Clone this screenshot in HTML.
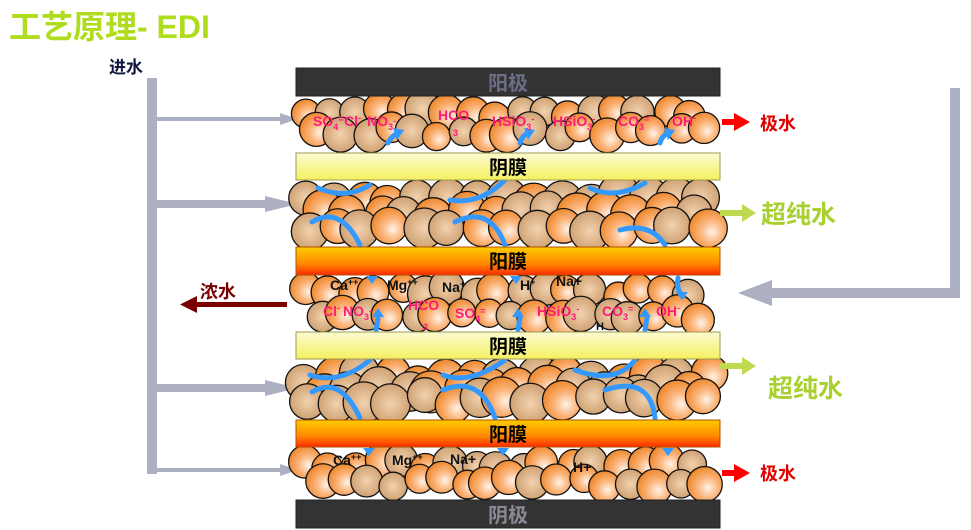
<!DOCTYPE html>
<html><head><meta charset="utf-8"><style>
body{margin:0;width:971px;height:530px;background:#fff;overflow:hidden;font-family:"Liberation Sans","Noto Sans CJK SC",sans-serif}
svg{position:absolute;left:0;top:0}
</style></head><body>
<svg width="971" height="530" viewBox="0 0 971 530" xmlns="http://www.w3.org/2000/svg" font-family="Liberation Sans, Noto Sans CJK SC, sans-serif">
<defs>
<radialGradient id="bo" cx="0.6" cy="0.6" r="0.6"><stop offset="0" stop-color="#fff2e6"/><stop offset="0.5" stop-color="#fbb47a"/><stop offset="1" stop-color="#ee8a30"/></radialGradient>
<radialGradient id="bt" cx="0.5" cy="0.5" r="0.6"><stop offset="0" stop-color="#f2d2ae"/><stop offset="1" stop-color="#c89868"/></radialGradient>
<linearGradient id="ym" x1="0" y1="0" x2="0" y2="1"><stop offset="0" stop-color="#fbfbd0"/><stop offset="1" stop-color="#f5f060"/></linearGradient>
<linearGradient id="om" x1="0" y1="0" x2="0" y2="1"><stop offset="0" stop-color="#ffcc00"/><stop offset="0.6" stop-color="#ff8800"/><stop offset="1" stop-color="#ff2a00"/></linearGradient>
</defs>
<text x="9" y="38" font-size="32" font-weight="bold" fill="#b0dc1e">工艺原理- EDI</text>
<text x="109" y="73" font-size="17" font-weight="bold" fill="#101840">进水</text>
<g fill="#adafc2">
<rect x="147" y="78" width="10" height="396"/>
<rect x="157" y="117" width="125" height="4"/><polygon points="280,113 298,119 280,125"/>
<rect x="157" y="200" width="110" height="8"/><polygon points="265,196 298,204 265,212"/>
<rect x="157" y="384" width="110" height="8"/><polygon points="265,380 298,388 265,396"/>
<rect x="157" y="468" width="125" height="4"/><polygon points="280,464 298,470 280,476"/>
<rect x="950" y="88" width="10" height="210"/>
<rect x="770" y="288" width="190" height="10"/><polygon points="772,280 738,293 772,306"/>
</g>
<g id="beads"></g>
<g id="blue" fill="none" stroke="#3399ff" stroke-width="5" stroke-linecap="round">
<path d="M318,188 Q345,200 370,185"/><path d="M312,222 Q340,205 360,245"/>
<path d="M450,200 Q480,205 505,180"/><path d="M455,222 Q490,205 505,245"/>
<path d="M590,188 Q615,200 645,183"/><path d="M620,230 Q650,222 665,245"/>
<path d="M310,375 Q340,385 370,360"/><path d="M312,392 Q340,375 360,418"/>
<path d="M443,375 Q470,385 505,360"/><path d="M443,390 Q480,375 495,418"/>
<path d="M575,370 Q615,385 635,360"/><path d="M605,390 Q650,375 655,418"/>
<path d="M388,143 Q392,135 400,132"/><path d="M520,143 Q522,135 530,132"/><path d="M660,143 Q662,135 670,132"/>
<path d="M376,330 L378,318"/><path d="M518,330 L520,318"/><path d="M645,330 L647,318"/>
<path d="M678,278 Q676,290 683,296"/>
</g>
<g fill="#3399ff">
<polygon points="393,128 404,130 397,140"/><polygon points="524,128 535,130 528,140"/><polygon points="664,128 675,130 668,140"/>
<polygon points="372,317 384,317 378,308"/><polygon points="512,317 524,317 518,308"/><polygon points="639,317 651,317 645,308"/>
<polygon points="366,276 378,276 372,284"/><polygon points="510,276 522,276 516,284"/><polygon points="676,292 688,292 682,300"/>
<polygon points="363,448 375,448 369,456"/><polygon points="497,448 509,448 503,456"/><polygon points="662,448 674,448 668,456"/>
</g>
<rect x="296" y="68" width="424" height="28" fill="#333" stroke="#222"/>
<text x="508" y="90" font-size="20" font-weight="bold" fill="#6b6e86" text-anchor="middle">阳极</text>
<rect x="296" y="500" width="424" height="28" fill="#333" stroke="#222"/>
<text x="508" y="522" font-size="20" font-weight="bold" fill="#8a8a96" text-anchor="middle">阴极</text>
<rect x="296" y="153" width="424" height="27" fill="url(#ym)" stroke="#a09a50"/>
<text x="508" y="174" font-size="19" font-weight="bold" fill="#000" text-anchor="middle">阴膜</text>
<rect x="296" y="332" width="424" height="27" fill="url(#ym)" stroke="#a09a50"/>
<text x="508" y="353" font-size="19" font-weight="bold" fill="#000" text-anchor="middle">阴膜</text>
<rect x="296" y="247" width="424" height="28" fill="url(#om)" stroke="#b05000"/>
<text x="508" y="268" font-size="19" font-weight="bold" fill="#000" text-anchor="middle">阳膜</text>
<rect x="296" y="420" width="424" height="27" fill="url(#om)" stroke="#b05000"/>
<text x="508" y="441" font-size="19" font-weight="bold" fill="#000" text-anchor="middle">阳膜</text>
<g fill="#ff1a75" font-size="14" font-weight="bold">
<text x="313" y="126">SO<tspan font-size="9" dy="4">4</tspan><tspan dy="-8" font-size="10">=</tspan><tspan dy="4">Cl</tspan><tspan font-size="9" dy="-5">-</tspan><tspan dx="6" dy="5">NO</tspan><tspan font-size="9" dy="4">3</tspan><tspan font-size="9" dy="-6">-</tspan></text>
<text x="438" y="120">HCO</text><text x="453" y="136" font-size="9">3</text>
<text x="492" y="126">HSiO<tspan font-size="9" dy="4">3</tspan><tspan font-size="9" dy="-8">-</tspan></text>
<text x="553" y="126">HSiO<tspan font-size="9" dy="4">3</tspan><tspan font-size="9" dy="-8">-</tspan></text>
<text x="618" y="126">CO<tspan font-size="9" dy="4">3</tspan><tspan font-size="9" dy="-8">=</tspan></text>
<text x="672" y="126">OH<tspan font-size="9" dy="-5">-</tspan></text>
<text x="323" y="316">Cl<tspan font-size="9" dy="-5">-</tspan><tspan dx="3" dy="5">NO</tspan><tspan font-size="9" dy="4">3</tspan><tspan font-size="9" dy="-6">-</tspan></text>
<text x="408" y="310">HCO</text><text x="423" y="330" font-size="9">3</text>
<text x="455" y="318">SO<tspan font-size="9" dy="4">4</tspan><tspan font-size="9" dy="-8">=</tspan></text>
<text x="537" y="316">HSiO<tspan font-size="9" dy="4">3</tspan><tspan font-size="9" dy="-8">-</tspan></text>
<text x="602" y="316">CO<tspan font-size="9" dy="4">3</tspan><tspan font-size="9" dy="-8">=</tspan></text>
<text x="656" y="316">OH<tspan font-size="9" dy="-5">-</tspan></text>
</g>
<g fill="#111" font-size="14" font-weight="bold">
<text x="330" y="290">Ca<tspan font-size="9" dy="-5">++</tspan></text>
<text x="387" y="290">Mg<tspan font-size="9" dy="-5">++</tspan></text>
<text x="442" y="292">Na<tspan font-size="9" dy="-5">+</tspan></text>
<text x="520" y="290">H<tspan font-size="9" dy="-5">+</tspan></text>
<text x="556" y="286">Na+</text>
<text x="596" y="330" font-size="11">H</text>
<text x="333" y="465">Ca<tspan font-size="9" dy="-5">++</tspan></text>
<text x="392" y="465">Mg<tspan font-size="9" dy="-5">++</tspan></text>
<text x="450" y="464">Na+</text>
<text x="573" y="472">H+</text>
</g>
<rect x="722" y="119" width="14" height="6" fill="#ff0000"/><polygon points="734,113 750,122 734,131" fill="#ff0000"/>
<text x="760" y="130" font-size="18" font-weight="bold" fill="#e00000">极水</text>
<rect x="722" y="470" width="14" height="6" fill="#ff0000"/><polygon points="734,464 750,473 734,482" fill="#ff0000"/>
<text x="760" y="480" font-size="18" font-weight="bold" fill="#e00000">极水</text>
<rect x="720" y="210" width="24" height="6" fill="#c0da50"/><polygon points="742,204 756,213 742,222" fill="#c0da50"/>
<text x="761" y="223" font-size="25" font-weight="bold" fill="#a8d030">超纯水</text>
<rect x="720" y="363" width="24" height="6" fill="#c0da50"/><polygon points="742,357 756,366 742,375" fill="#c0da50"/>
<text x="768" y="397" font-size="25" font-weight="bold" fill="#a8d030">超纯水</text>
<text x="200" y="298" font-size="18" font-weight="bold" fill="#7a0000">浓水</text>
<rect x="195" y="302" width="92" height="5" fill="#7a0000"/><polygon points="197,296 180,304.5 197,313" fill="#7a0000"/>
</svg>
<script>
(function(){
var g=document.getElementById('beads'),ns='http://www.w3.org/2000/svg',s=7;
function r(){s=(s*9301+49297)%233280;return s/233280;}
function row(y0,y1,rad,rows){
 for(var k=0;k<rows;k++){
  var cy=y0+rad+(rows>1?k*((y1-y0-2*rad)/(rows-1)):(y1-y0-2*rad)/2);
  for(var x=306+(k%2)*rad*0.8;x<708;x+=rad*1.5){
   var c=document.createElementNS(ns,'circle');
   c.setAttribute('cx',x+(r()-.5)*10);c.setAttribute('cy',cy+(r()-.5)*10);
   c.setAttribute('r',rad+(r()-.5)*4);
   c.setAttribute('fill',r()<.5?'url(#bo)':'url(#bt)');
   c.setAttribute('stroke','#111');c.setAttribute('stroke-width','1.3');
   g.appendChild(c);
  }
 }
}
row(97,148,16,2);row(180,246,19,3);row(276,331,16,2);row(359,419,19,3);row(448,498,16,2);
})();
</script>
</body></html>
